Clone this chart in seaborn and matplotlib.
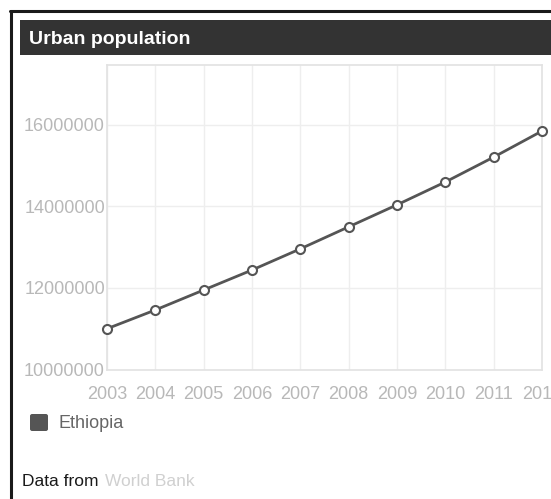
import matplotlib
matplotlib.use("Agg")
import matplotlib.pyplot as plt
import matplotlib.patches as mpatches
import seaborn as sns
import pandas as pd

years = [2003, 2004, 2005, 2006, 2007, 2008, 2009, 2010, 2011, 2012]
urban_pop = [11000000, 11460000, 11950000, 12440000, 12960000,
             13500000, 14040000, 14600000, 15210000, 15850000]
y_ticks = [10000000, 12000000, 14000000, 16000000]
country = "Ethiopia"
title = "Urban population"

df = pd.DataFrame({"year": years, "population": urban_pop, "country": country})

sns.set_theme(style="white")
plt.rcParams["font.family"] = ["Liberation Sans", "DejaVu Sans"]

W, H = 551, 499
fig = plt.figure(figsize=(W / 100, H / 100), dpi=100)

# outer frame (left and top edges only visible)
fig.add_artist(plt.Line2D([11 / W, 11 / W], [0, 1 - 11 / H], color="#1a1a1a", lw=2.2,
                          transform=fig.transFigure))
fig.add_artist(plt.Line2D([10 / W, 1], [1 - 11 / H, 1 - 11 / H], color="#1a1a1a", lw=2.2,
                          transform=fig.transFigure))

# title bar
fig.add_artist(mpatches.Rectangle((20 / W, 1 - 55 / H), 1 - 20 / W, 35 / H,
                                  transform=fig.transFigure, facecolor="#333333",
                                  edgecolor="none"))
fig.text(29 / W, 1 - 39 / H, title, color="white", fontsize=14, fontweight="bold",
         va="center", ha="left")

left, right, top, bottom = 107, 542, 65, 369.5
ax = fig.add_axes([left / W, 1 - bottom / H, (right - left) / W, (bottom - top) / H])

sns.lineplot(data=df, x="year", y="population", ax=ax, color="#555555", lw=2,
             marker="o", markersize=6.5, markerfacecolor="white",
             markeredgecolor="#555555", markeredgewidth=1.5, legend=False, clip_on=False,
             zorder=5)

ax.set_xlim(2003, 2012)
ax.set_ylim(10000000, 17470000)
ax.set_xticks(years)
ax.set_xticklabels([str(y) for y in years])
ax.set_yticks(y_ticks)
ax.set_yticklabels([str(v) for v in y_ticks])
ax.grid(True, color="#eeeeee", lw=1)
ax.set_axisbelow(True)
for s in ax.spines.values():
    s.set_color("#e2e2e2")
    s.set_linewidth(1.2)
ax.tick_params(axis="both", colors="#bbbbbb", labelcolor="#b8b8b8", labelsize=13,
               length=0)
ax.tick_params(axis="y", pad=1.5)
ax.tick_params(axis="x", pad=12)
ax.set_xlabel("")
ax.set_ylabel("")

# legend entry
fig.add_artist(mpatches.FancyBboxPatch((30 / W, 1 - 431 / H), 18 / W, 17 / H,
                                       boxstyle="round,pad=0,rounding_size=0.004",
                                       transform=fig.transFigure, facecolor="#555555",
                                       edgecolor="none"))
fig.text(58 / W, 1 - 424 / H, country, color="#666666", fontsize=13, va="center",
         ha="left")

# source line
fig.text(22 / W, 1 - 481 / H, "Data from ", color="#1a1a1a", fontsize=12.5,
         fontweight="medium", va="center", ha="left")
fig.text(105 / W, 1 - 481 / H, "World Bank", color="#d0d0d0", fontsize=12.5,
         va="center", ha="left")

fig.savefig("out.png", dpi=100)
